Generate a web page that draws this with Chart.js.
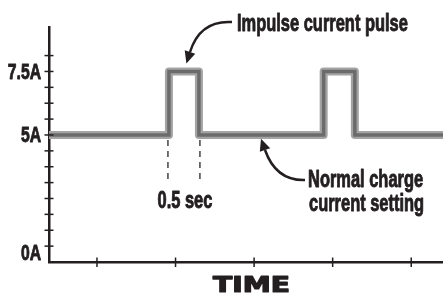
<!DOCTYPE html>
<html>
<head>
<meta charset="utf-8">
<script src="https://cdn.jsdelivr.net/npm/chart.js@4/dist/chart.umd.min.js"></script>
<style>
  html, body { margin: 0; padding: 0; background: #fff; }
</style>
</head>
<body>
<canvas id="myChart" width="443" height="293"></canvas>
<script>
// current pulse schematic, time in seconds, current in amps
var timeSec  = [0, 2.0, 2.0, 2.5, 2.5, 4.58, 4.58, 5.1, 5.1, 6.57];
var currentA = [5, 5,   7.5, 7.5, 5,   5,    7.5,  7.5, 5,   5];

var xTickSec    = [0.8, 2.11, 3.42, 4.73, 6.04];
var yTickValues = [0, 5, 7.5];
var yTickLabels = ["0A", "5A", "7.5A"];
var yStep = 0.625;   // small tick every 1/8 of 5A

var ink = "#231f20";
var face = '"Liberation Sans", Arial, sans-serif';
var squeeze = 0.715;  // no condensed face installed, so squash Arial-metric text

var points = timeSec.map(function (t, i) { return { x: t, y: currentA[i] }; });

function say(ctx, s, x, y, size, align, base) {
  ctx.save();
  ctx.font = "bold " + size + "px " + face;
  ctx.textAlign = align;
  ctx.textBaseline = base || "alphabetic";
  ctx.translate(x, y);
  ctx.scale(squeeze, 1);
  ctx.fillStyle = ink;
  ctx.strokeStyle = ink;
  ctx.lineWidth = 0.9;
  ctx.lineJoin = "round";
  ctx.fillText(s, 0, 0);
  ctx.strokeText(s, 0, 0);
  ctx.restore();
}

function arrow(ctx, x0, y0, cx, cy, x1, y1) {
  ctx.beginPath();
  ctx.moveTo(x0, y0);
  ctx.quadraticCurveTo(cx, cy, x1, y1);
  ctx.stroke();
  var a = Math.atan2(y1 - cy, x1 - cx);
  var len = 12, hw = 5.5;
  var tx = x1 + Math.cos(a) * len, ty = y1 + Math.sin(a) * len;
  ctx.beginPath();
  ctx.moveTo(tx, ty);
  ctx.lineTo(x1 - Math.sin(a) * hw, y1 + Math.cos(a) * hw);
  ctx.lineTo(x1 + Math.sin(a) * hw, y1 - Math.cos(a) * hw);
  ctx.closePath();
  ctx.fill();
}

var notes = {
  id: "notes",
  afterDraw: function (chart) {
    var ctx = chart.ctx, xs = chart.scales.x, ys = chart.scales.y;
    ctx.save();
    ctx.strokeStyle = ink;
    ctx.fillStyle = ink;

    // tick marks that cross the axis lines
    ctx.lineWidth = 1.5;
    ys.ticks.forEach(function (t) {
      if (t.value === 0) return;
      var py = ys.getPixelForValue(t.value);
      ctx.beginPath(); ctx.moveTo(xs.left - 4.5, py); ctx.lineTo(xs.left + 4.5, py); ctx.stroke();
    });
    xs.ticks.forEach(function (t) {
      var px = xs.getPixelForValue(t.value);
      ctx.beginPath(); ctx.moveTo(px, ys.bottom - 4.5); ctx.lineTo(px, ys.bottom + 5); ctx.stroke();
    });

    // y labels, 0A sits just above the corner
    yTickValues.forEach(function (v, i) {
      var py = ys.getPixelForValue(v);
      if (v === 0) py -= 9;
      say(ctx, yTickLabels[i], xs.left - 8, py + 1, 22, "right", "middle");
    });

    // dashed markers under the first pulse
    var p0 = xs.getPixelForValue(timeSec[1]), p1 = xs.getPixelForValue(timeSec[3]);
    var base = ys.getPixelForValue(currentA[0]);
    ctx.strokeStyle = "#444";
    ctx.setLineDash([6, 5]);
    [p0 - 1, p1 + 1].forEach(function (px) {
      ctx.beginPath(); ctx.moveTo(px, base + 5); ctx.lineTo(px, base + 48); ctx.stroke();
    });
    ctx.setLineDash([]);
    say(ctx, "0.5 sec", (p0 + p1) / 2 + 1, base + 73, 23, "center");

    // callouts
    ctx.strokeStyle = ink;
    ctx.lineWidth = 2.5;
    say(ctx, "Impulse current pulse", 237, 31, 23, "left");
    arrow(ctx, 232, 22, 200, 20, 190, 52);
    say(ctx, "Normal charge", 308, 187, 23, "left");
    say(ctx, "current setting", 309, 211, 23, "left");
    arrow(ctx, 305, 180, 276, 181, 265, 150);

    // axis name
    ctx.save();
    ctx.font = 'bold 21px "DejaVu Sans", sans-serif';
    var w = ctx.measureText("TIME").width;
    ctx.translate(251.5, 292);
    ctx.scale(77 / w, 1);
    ctx.textAlign = "center";
    ctx.lineWidth = 1.2;
    ctx.lineJoin = "round";
    ctx.fillText("TIME", 0, 0);
    ctx.strokeText("TIME", 0, 0);
    ctx.restore();

    ctx.restore();
  }
};

new Chart("myChart", {
  type: "line",
  data: {
    datasets: [
      { data: points, borderColor: "#6b6b6b", borderWidth: 3.5, borderJoinStyle: "miter", pointRadius: 0, tension: 0, clip: 0 },
      { data: points, borderColor: "#a4a4a4", borderWidth: 8, borderJoinStyle: "round", pointRadius: 0, tension: 0, clip: 0 }
    ]
  },
  options: {
    responsive: false,
    animation: false,
    devicePixelRatio: 1,
    layout: { padding: { top: 27, right: 0, left: 0, bottom: 0 } },
    plugins: { legend: { display: false }, tooltip: { enabled: false } },
    scales: {
      x: {
        type: "linear",
        min: 0,
        max: 6.57,
        afterBuildTicks: function (s) { s.ticks = xTickSec.map(function (v) { return { value: v }; }); },
        afterFit: function (s) { s.height = 31; },
        ticks: { display: false },
        grid: { display: false, drawTicks: false },
        border: { display: true, color: ink, width: 2.5 }
      },
      y: {
        type: "linear",
        min: 0,
        max: 9.25,
        afterBuildTicks: function (s) {
          s.ticks = s.ticks.filter(function (t) {
            var k = t.value / yStep;
            return Math.abs(k - Math.round(k)) < 1e-6;
          });
        },
        afterFit: function (s) { s.width = 49; },
        ticks: { stepSize: yStep, autoSkip: false, display: false },
        grid: { display: false, drawTicks: false },
        border: { display: true, color: ink, width: 2.5 }
      }
    }
  },
  plugins: [notes]
});
</script>
</body>
</html>
